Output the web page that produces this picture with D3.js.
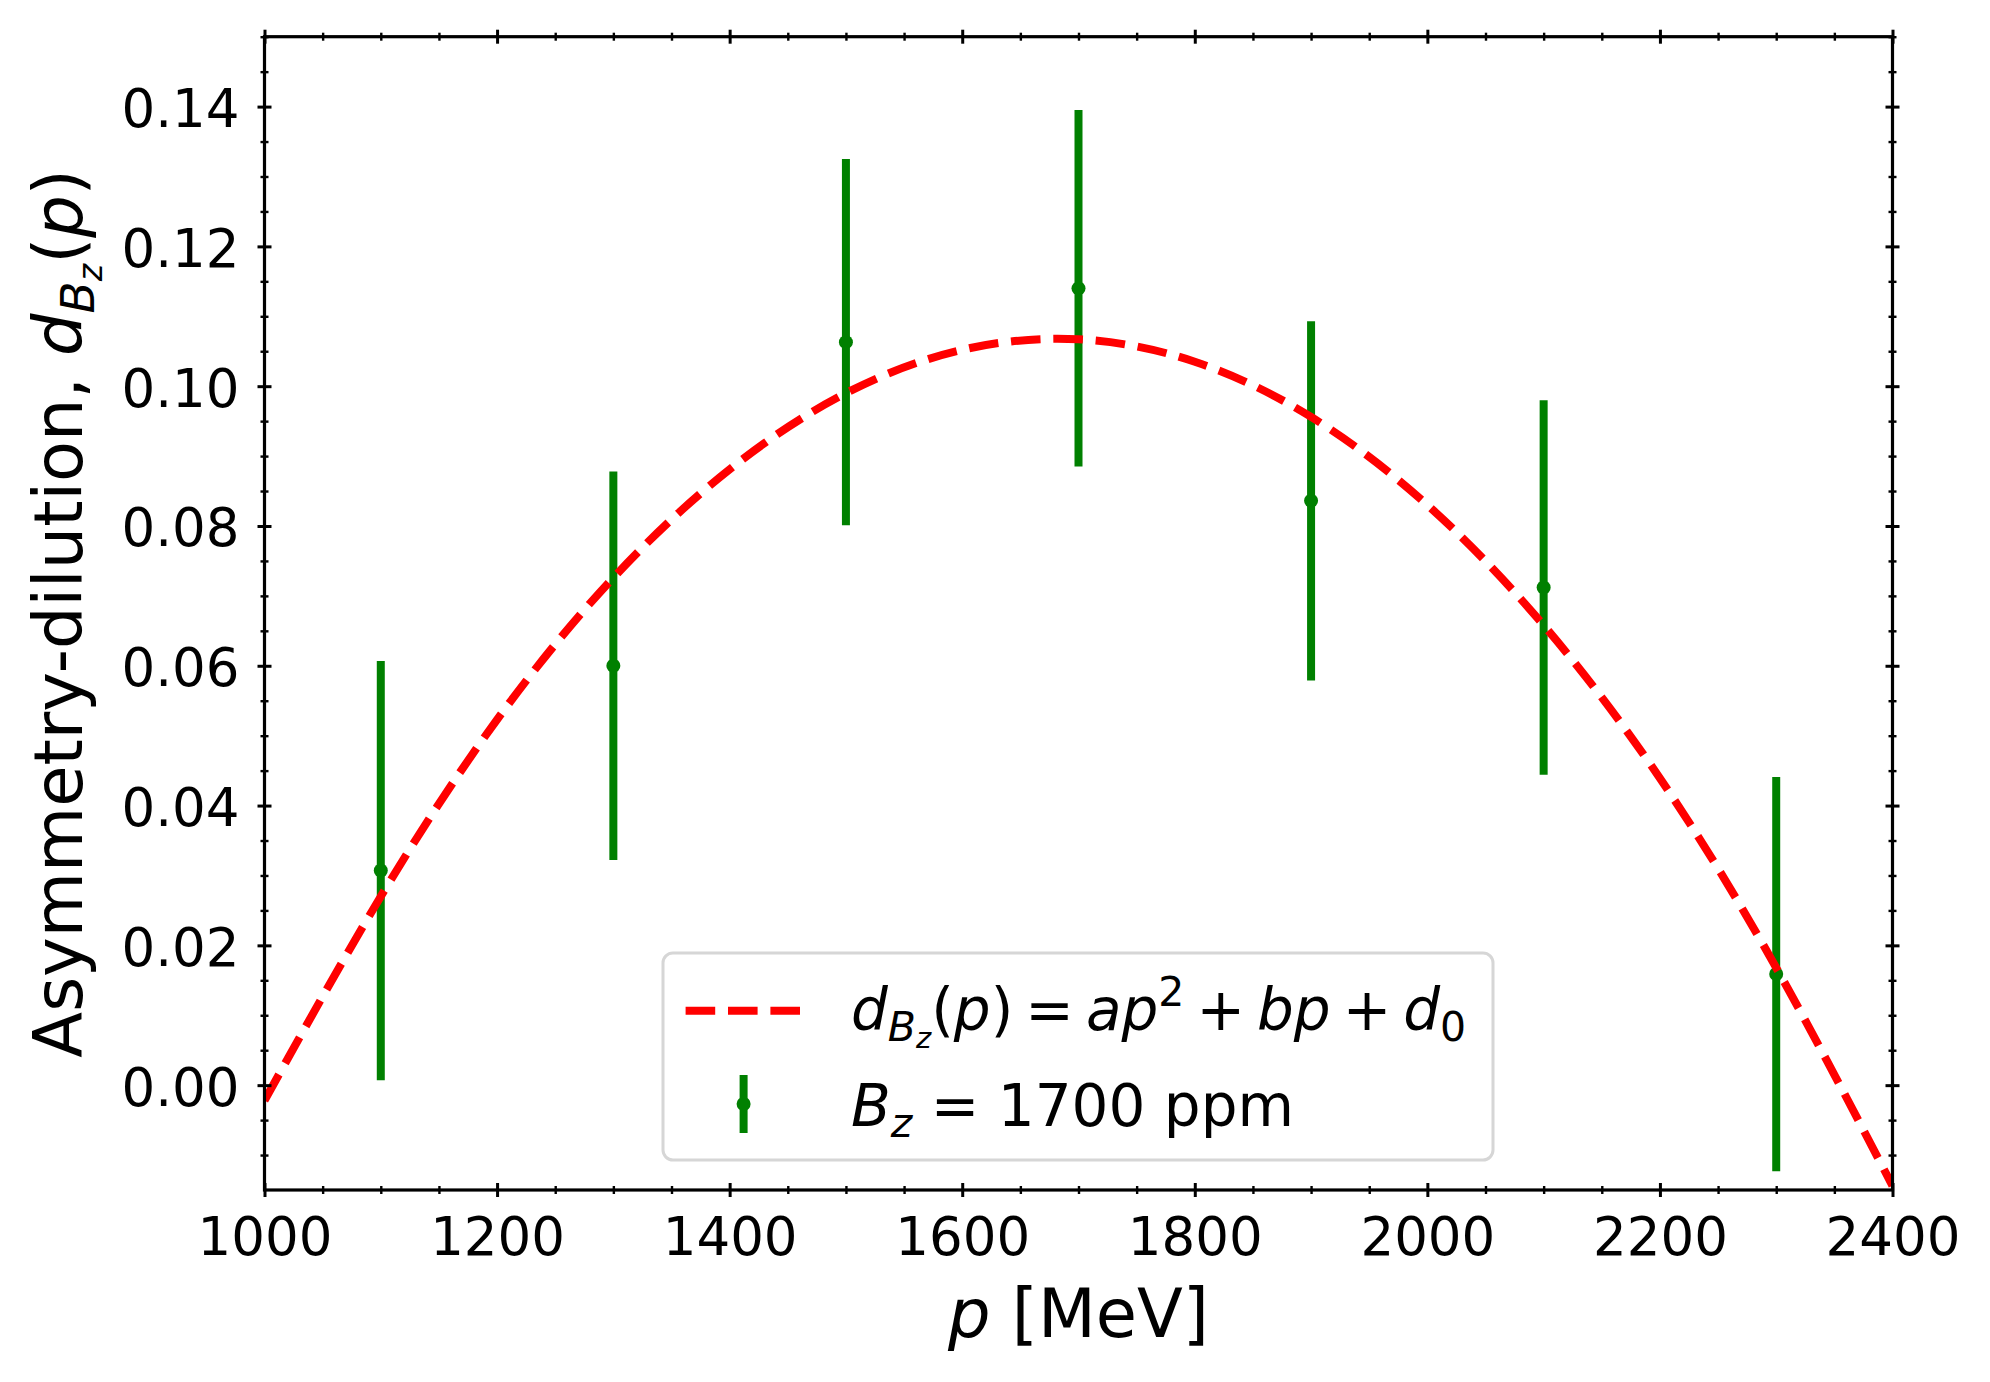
<!DOCTYPE html>
<html>
<head>
<meta charset="utf-8">
<script src="https://cdn.jsdelivr.net/npm/d3@7"></script>
<style>
  html, body { margin: 0; padding: 0; background: #ffffff; }
  svg { display: block; font-family: "DejaVu Sans", sans-serif; }
</style>
</head>
<body>
<script>
// ---- data ----
const momenta   = [1100, 1300, 1500, 1700, 1900, 2100, 2300];
const dilution  = [0.0307, 0.0600, 0.1063, 0.1140, 0.0836, 0.0712, 0.0159];
const dilErr    = [0.0300, 0.0278, 0.0262, 0.0255, 0.0257, 0.0268, 0.0282];

const fitMomenta = [1000, 1100, 1200, 1300, 1400, 1500, 1600, 1700, 1800, 1900, 2000, 2100, 2200, 2300, 2400];
const fitValues  = [-0.0022, 0.0270, 0.0523, 0.0726, 0.0881, 0.0990, 0.1052, 0.1067, 0.1035, 0.0956, 0.0830, 0.0658, 0.0439, 0.0168, -0.0144];

const xMajorTicks = [1000, 1200, 1400, 1600, 1800, 2000, 2200, 2400];
const yMajorTicks = [0.00, 0.02, 0.04, 0.06, 0.08, 0.10, 0.12, 0.14];
const xDomain = [1000, 2400];
const yDomain = [-0.015, 0.15];

// ---- layout ----
const W = 1990, H = 1382;
const L = 264.5, R = 1892.5, T = 36.7, B = 1190;
const green = "#008000", red = "#ff0000";

const svg = d3.select("body").append("svg").attr("width", W).attr("height", H);
svg.append("rect").attr("width", W).attr("height", H).attr("fill", "#fff");

const x = d3.scaleLinear().domain(xDomain).range([L, R]);
const y = d3.scaleLinear().domain(yDomain).range([B, T]);

const xMinor = d3.range(xDomain[0], xDomain[1] + 1, 50).filter(v => !xMajorTicks.includes(v));
const yMinorAll = d3.range(-0.010, 0.1501, 0.005).map(v => +v.toFixed(3));
const yMinor = yMinorAll.filter(v => !yMajorTicks.some(m => Math.abs(m - v) < 1e-9));

svg.append("clipPath").attr("id", "clip")
  .append("rect").attr("x", L).attr("y", T).attr("width", R - L).attr("height", B - T);

// ---- error bars ----
const pts = momenta.map((p, i) => ({p, d: dilution[i], e: dilErr[i]}));
const eb = svg.append("g").attr("clip-path", "url(#clip)");
eb.selectAll("line.err").data(pts).join("line")
  .attr("class", "err")
  .attr("x1", d => x(d.p)).attr("x2", d => x(d.p))
  .attr("y1", d => y(d.d - d.e)).attr("y2", d => y(d.d + d.e))
  .attr("stroke", green).attr("stroke-width", 8);
eb.selectAll("circle").data(pts).join("circle")
  .attr("cx", d => x(d.p)).attr("cy", d => y(d.d)).attr("r", 7)
  .attr("fill", green);

// ---- fit curve ----
const fit = fitMomenta.map((p, i) => [p, fitValues[i]]);
svg.append("g").attr("clip-path", "url(#clip)")
  .append("path")
  .attr("d", d3.line().x(d => x(d[0])).y(d => y(d[1])).curve(d3.curveNatural)(fit))
  .attr("fill", "none").attr("stroke", red).attr("stroke-width", 8)
  .attr("stroke-dasharray", "29.6,12.8");

// ---- axes (inout ticks on all four sides) ----
function styleTicks(g, len, width) {
  g.select(".domain").remove();
  g.selectAll(".tick line").attr("stroke", "#000").attr("stroke-width", width);
}
function horiz(g, len) { g.selectAll(".tick line").attr("y1", -len).attr("y2", len); }
function vert(g, len)  { g.selectAll(".tick line").attr("x1", -len).attr("x2", len); }

// bottom
const gxB = svg.append("g").attr("transform", `translate(0,${B})`)
  .call(d3.axisBottom(x).tickValues(xMajorTicks).tickSize(7).tickFormat(d3.format("d")));
styleTicks(gxB, 7, 3); horiz(gxB, 7);
gxB.selectAll(".tick text").attr("y", 65).attr("dy", 0)
  .attr("font-size", 53).attr("font-family", "DejaVu Sans").attr("fill", "#000");
const gxBm = svg.append("g").attr("transform", `translate(0,${B})`)
  .call(d3.axisBottom(x).tickValues(xMinor).tickSize(4).tickFormat(""));
styleTicks(gxBm, 4, 2.4); horiz(gxBm, 4);

// top
const gxT = svg.append("g").attr("transform", `translate(0,${T})`)
  .call(d3.axisTop(x).tickValues(xMajorTicks).tickSize(7).tickFormat(""));
styleTicks(gxT, 7, 3); horiz(gxT, 7);
const gxTm = svg.append("g").attr("transform", `translate(0,${T})`)
  .call(d3.axisTop(x).tickValues(xMinor).tickSize(4).tickFormat(""));
styleTicks(gxTm, 4, 2.4); horiz(gxTm, 4);

// left
const gyL = svg.append("g").attr("transform", `translate(${L},0)`)
  .call(d3.axisLeft(y).tickValues(yMajorTicks).tickSize(7).tickFormat(d3.format(".2f")));
styleTicks(gyL, 7, 3); vert(gyL, 7);
gyL.selectAll(".tick text").attr("x", -25).attr("dy", 0).attr("y", 20)
  .attr("text-anchor", "end")
  .attr("font-size", 53).attr("font-family", "DejaVu Sans").attr("fill", "#000");
const gyLm = svg.append("g").attr("transform", `translate(${L},0)`)
  .call(d3.axisLeft(y).tickValues(yMinor).tickSize(4).tickFormat(""));
styleTicks(gyLm, 4, 2.4); vert(gyLm, 4);

// right
const gyR = svg.append("g").attr("transform", `translate(${R},0)`)
  .call(d3.axisRight(y).tickValues(yMajorTicks).tickSize(7).tickFormat(""));
styleTicks(gyR, 7, 3); vert(gyR, 7);
const gyRm = svg.append("g").attr("transform", `translate(${R},0)`)
  .call(d3.axisRight(y).tickValues(yMinor).tickSize(4).tickFormat(""));
styleTicks(gyRm, 4, 2.4); vert(gyRm, 4);

// frame
svg.append("rect").attr("x", L).attr("y", T).attr("width", R - L).attr("height", B - T)
  .attr("fill", "none").attr("stroke", "#000").attr("stroke-width", 3.2);

// ---- axis labels ----
const xl = svg.append("text").attr("x", (L + R) / 2).attr("y", 1337)
  .attr("text-anchor", "middle").attr("font-size", 67).attr("fill", "#000");
xl.append("tspan").attr("font-style", "italic").text("p");
xl.append("tspan").text(" [MeV]");

const yl = svg.append("text")
  .attr("transform", `translate(82,${(T + B) / 2}) rotate(-90)`)
  .attr("text-anchor", "middle").attr("font-size", 67).attr("fill", "#000");
yl.append("tspan").text("Asymmetry-dilution, ");
yl.append("tspan").attr("font-style", "italic").text("d");
yl.append("tspan").attr("font-style", "italic").attr("font-size", 47).attr("dy", 12).text("B");
yl.append("tspan").attr("font-style", "italic").attr("font-size", 33).attr("dy", 8).text("z");
yl.append("tspan").attr("dy", -20).text("(");
yl.append("tspan").attr("font-style", "italic").text("p");
yl.append("tspan").text(")");

// ---- legend ----
const lg = svg.append("g");
lg.append("rect").attr("x", 663).attr("y", 953).attr("width", 830).attr("height", 207)
  .attr("rx", 10).attr("ry", 10)
  .attr("fill", "#ffffff").attr("fill-opacity", 0.8)
  .attr("stroke", "#d6d6d6").attr("stroke-width", 3);
lg.append("line").attr("x1", 685.6).attr("x2", 803.8).attr("y1", 1010.7).attr("y2", 1010.7)
  .attr("stroke", red).attr("stroke-width", 8).attr("stroke-dasharray", "29.6,12.8");
lg.append("line").attr("x1", 743.6).attr("x2", 743.6).attr("y1", 1075).attr("y2", 1133)
  .attr("stroke", green).attr("stroke-width", 8);
lg.append("circle").attr("cx", 743.6).attr("cy", 1104).attr("r", 7).attr("fill", green);

const t1 = lg.append("text").attr("x", 851).attr("y", 1030).attr("font-size", 58).attr("fill", "#000");
t1.append("tspan").attr("font-style", "italic").text("d");
t1.append("tspan").attr("font-style", "italic").attr("font-size", 41).attr("dy", 11).text("B");
t1.append("tspan").attr("font-style", "italic").attr("font-size", 29).attr("dy", 7).text("z");
t1.append("tspan").attr("dy", -18).text("(");
t1.append("tspan").attr("font-style", "italic").text("p");
t1.append("tspan").text(")");
t1.append("tspan").attr("dx", 12).text("=");
t1.append("tspan").attr("dx", 12).attr("font-style", "italic").text("ap");
t1.append("tspan").attr("font-size", 41).attr("dy", -24).text("2");
t1.append("tspan").attr("dx", 12).attr("dy", 24).text("+");
t1.append("tspan").attr("dx", 12).attr("font-style", "italic").text("bp");
t1.append("tspan").attr("dx", 12).text("+");
t1.append("tspan").attr("dx", 12).attr("font-style", "italic").text("d");
t1.append("tspan").attr("font-size", 41).attr("dy", 11).text("0");

const t2 = lg.append("text").attr("x", 851).attr("y", 1126).attr("font-size", 58).attr("fill", "#000");
t2.append("tspan").attr("font-style", "italic").text("B");
t2.append("tspan").attr("font-style", "italic").attr("font-size", 41).attr("dy", 11).text("z");
t2.append("tspan").attr("dy", -11).text(" = 1700 ppm");
</script>
</body>
</html>
